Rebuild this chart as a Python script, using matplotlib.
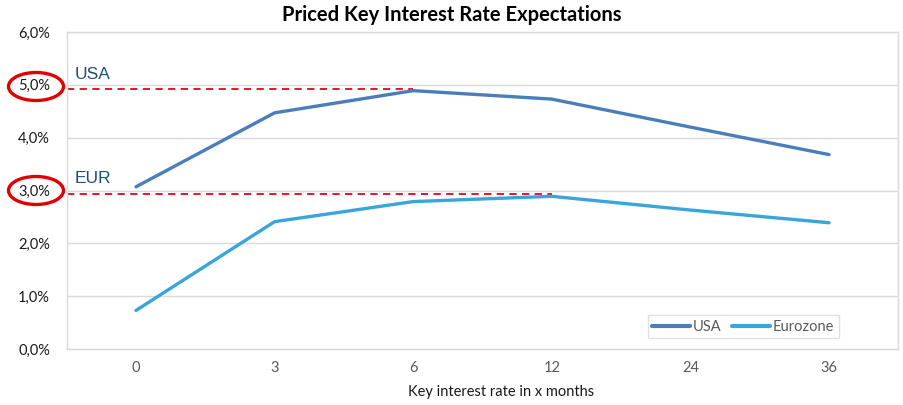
import matplotlib
matplotlib.use("Agg")
import matplotlib.pyplot as plt
from matplotlib.patches import Ellipse
from matplotlib.transforms import IdentityTransform
from matplotlib.ticker import FuncFormatter

categories = ["0", "3", "6", "12", "24", "36"]
usa = [3.07, 4.47, 4.89, 4.73, 4.20, 3.68]
eurozone = [0.73, 2.41, 2.79, 2.89, 2.63, 2.39]
usa_ref = 4.92
eur_ref = 2.93
yticks = [0, 1, 2, 3, 4, 5, 6]

plt.rcParams['font.family'] = ['Lato', 'DejaVu Sans']

W, H = 904, 405
fig = plt.figure(figsize=(W / 100, H / 100), dpi=100)
left, right, top, bottom = 66.7, 898.3, 32, 349
ax = fig.add_axes([left / W, 1 - bottom / H, (right - left) / W, (bottom - top) / H])

x = list(range(len(categories)))
ax.plot(x, usa, color="#4A7EBB", lw=2.4, label="USA", solid_capstyle="round", zorder=3)
ax.plot(x, eurozone, color="#3AA5DB", lw=2.4, label="Eurozone", solid_capstyle="round", zorder=3)

ax.plot([-0.5, 2], [usa_ref, usa_ref], color="#E8001C", lw=1.3, ls=(0, (4, 3)), zorder=2)
ax.plot([-0.5, 3], [eur_ref, eur_ref], color="#E8001C", lw=1.3, ls=(0, (4, 3)), zorder=2)

ax.text(-0.44, 5.05, "USA", color="#1F4E79", fontsize=12.5, family=['Liberation Sans'], va="bottom")
ax.text(-0.44, 3.08, "EUR", color="#1F4E79", fontsize=12.5, family=['Liberation Sans'], va="bottom")

ax.set_xlim(-0.5, len(categories) - 0.5)
ax.set_ylim(0, 6)
ax.set_xticks(x)
ax.set_xticklabels(categories)
ax.set_yticks(yticks)
ax.yaxis.set_major_formatter(FuncFormatter(lambda v, p: f"{v:.1f}%".replace(".", ",")))
ax.grid(axis="y", color="#D9D9D9", lw=1)
ax.set_axisbelow(True)
for s in ax.spines.values():
    s.set_color("#D9D9D9")
    s.set_linewidth(1)
ax.tick_params(axis="both", length=0)
ax.tick_params(axis="y", labelsize=10.5, labelcolor="#1a1a1a", pad=12)
ax.tick_params(axis="x", labelsize=10.5, labelcolor="#595959", pad=9)
ax.set_xlabel("Key interest rate in x months", fontsize=10.5, color="#1a1a1a", labelpad=5)
ax.xaxis.set_label_coords((501 - left) / (right - left), -0.115)

fig.suptitle("Priced Key Interest Rate Expectations", fontsize=14.5, fontweight="bold",
             y=1 - 15 / H, va="center", color="#000000")

leg = ax.legend(loc="lower left",
                bbox_to_anchor=((648 - left) / (right - left), (bottom - 338) / (bottom - top)),
                ncol=2, frameon=True, fontsize=10.5, handlelength=2.6, handletextpad=0.2,
                columnspacing=0.7, borderpad=0.3, fancybox=False, borderaxespad=0)
leg.get_frame().set_edgecolor("#D9D9D9")
leg.get_frame().set_linewidth(1)
for t in leg.get_texts():
    t.set_color("#595959")
for l in leg.get_lines():
    l.set_linewidth(3)

for cy in (86.5, 190.5):
    e = Ellipse((36, H - cy), 55, 28, fill=False, edgecolor="#E00000", lw=2.4,
                transform=IdentityTransform())
    fig.patches.append(e)

fig.savefig("out.png", dpi=100)
